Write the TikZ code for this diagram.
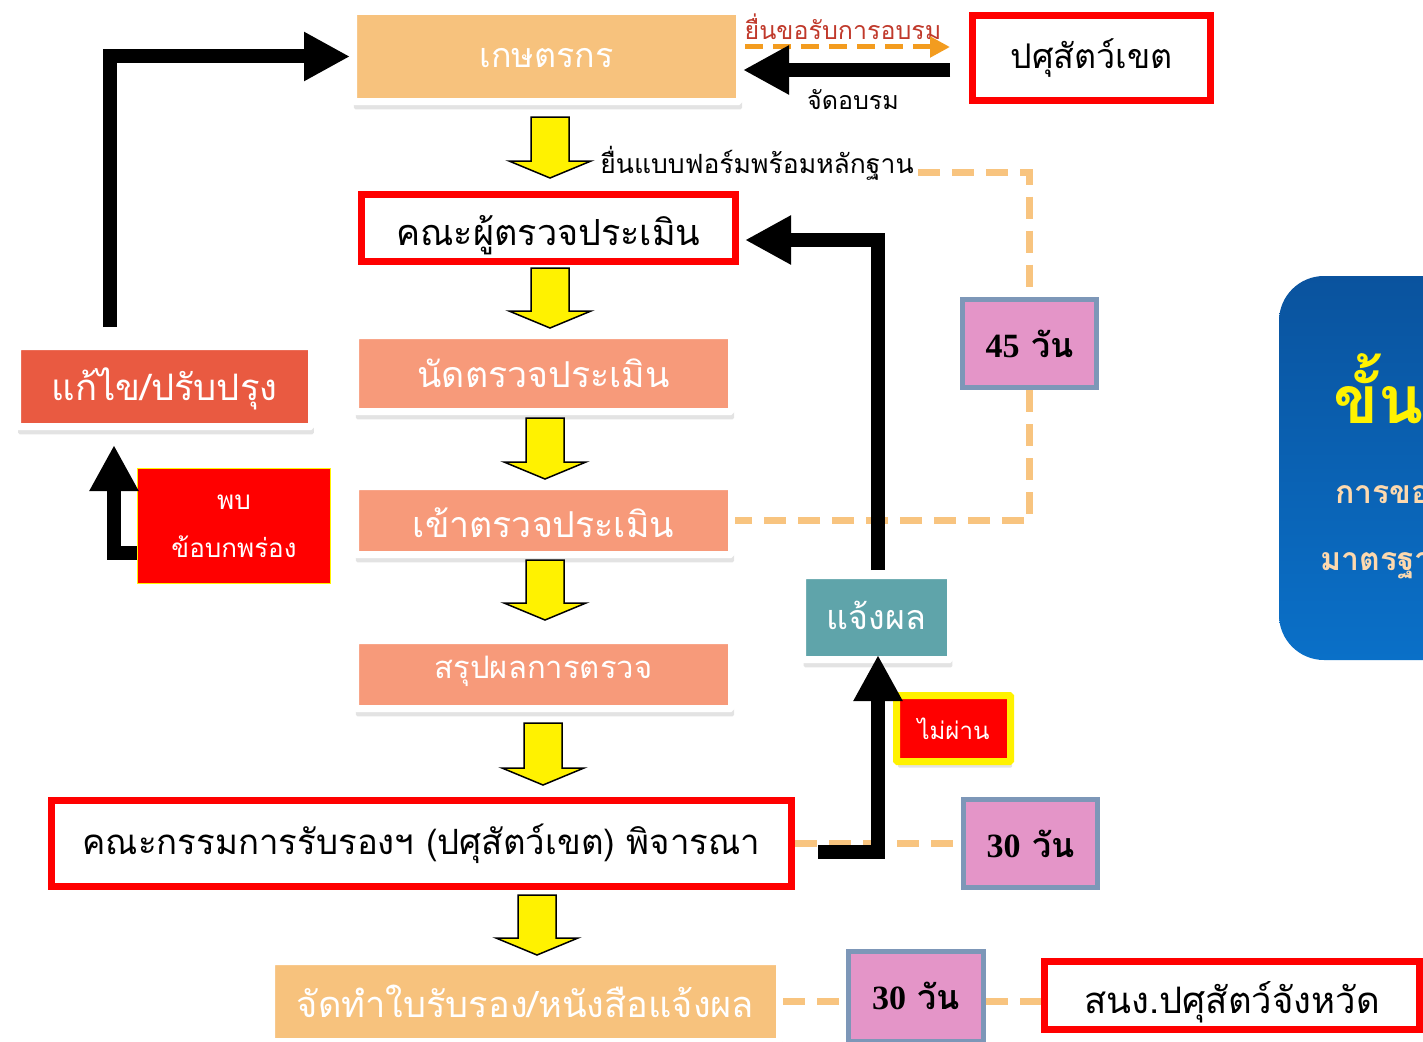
\documentclass[tikz,border=0pt]{standalone}
\usepackage{fontspec}
\setmainfont[Script=Thai]{Loma}
\newfontfamily\tnr{Liberation Serif}
\usetikzlibrary{arrows.meta,shadows,calc}
\definecolor{tan}{HTML}{F7C27D}
\definecolor{salmon}{HTML}{F79A7A}
\definecolor{fixred}{HTML}{E95A41}
\definecolor{teal2}{HTML}{5FA4AA}
\definecolor{pink2}{HTML}{E495C8}
\definecolor{pinkbd}{HTML}{7D97B8}
\definecolor{beige}{HTML}{F8C47F}
\definecolor{orng}{HTML}{F39C1F}
\definecolor{dred}{HTML}{C0392B}
\definecolor{bluetop}{HTML}{0A539E}
\definecolor{bluebot}{HTML}{0A70C8}
\definecolor{peach}{HTML}{FDD9AE}
\newcommand{\yarr}[3]{%
  \draw[yarrow] (#1-19,#2) -- (#1+19,#2) -- (#1+19,#3-17) -- (#1+41,#3-17) -- (#1,#3) -- (#1-41,#3-17) -- (#1-19,#3-17) -- cycle;}
\newcommand{\lowr}[2]{\raisebox{-#1pt}[\height][\depth]{#2}}
\begin{document}
\begin{tikzpicture}[x=1pt,y=-1pt,
  fbox/.style={draw=white, line width=7pt, rounded corners=1.5pt, inner sep=0pt, text=white,
     drop shadow={opacity=0.22, shadow xshift=1.5pt, shadow yshift=-7.5pt, shadow scale=1.006}},
  rbox/.style={draw=red, line width=7pt, fill=white, inner sep=0pt, text=black},
  pbox/.style={draw=pinkbd, line width=5pt, fill=pink2, inner sep=0pt, text=black,
     font=\fontsize{34}{38}\selectfont\bfseries},
  yarrow/.style={fill=yellow, draw=black, line width=1.5pt, line join=miter},
  blk/.style={line width=14pt, line join=miter, -{Triangle[length=46pt,width=46pt]}},
  bdash/.style={draw=beige, line width=7pt, dash pattern=on 22pt off 12pt},
  odash/.style={draw=orng, line width=5pt, dash pattern=on 18pt off 10pt, -{Triangle[length=20pt,width=20pt]}},
  lbl/.style={inner sep=0pt, font=\fontsize{25}{29}\selectfont},
  big/.style={font=\fontsize{34}{40}\selectfont}]
\clip (0,0) rectangle (1423,1041);
\useasboundingbox (0,0) rectangle (1423,1041);

% blue title panel
\shade[top color=bluetop, bottom color=bluebot, rounded corners=45pt] (1279,276) rectangle (1490,660);
\node[anchor=base west, inner sep=0pt, text=yellow, font=\fontsize{66}{70}\selectfont\bfseries] (t1) at (1333,423) {ขั้นตอน};
\node[anchor=base west, inner sep=0pt, text=peach, font=\fontsize{32}{36}\selectfont\bfseries] (t2) at (1335,503) {การขอรับรอง};
\node[anchor=base west, inner sep=0pt, text=peach, font=\fontsize{32}{36}\selectfont\bfseries] (t3) at (1320,570) {มาตรฐานฟาร์ม};

% main boxes
\node[fbox, fill=tan, big, minimum width=386, minimum height=90] (farmer) at (546.5,56.5) {\lowr{2}{เกษตรกร}};
\node[rbox, big, minimum width=238, minimum height=85] (dlv) at (1091.5,58) {ปศุสัตว์เขต};
\node[rbox, font=\fontsize{36}{40}\selectfont, minimum width=374, minimum height=67] (assess) at (548.5,228) {\lowr{7}{คณะผู้ตรวจประเมิน}};
\node[fbox, fill=salmon, font=\fontsize{35.7}{40}\selectfont, minimum width=376, minimum height=76] (appoint) at (543.5,373.5) {นัดตรวจประเมิน};
\node[fbox, fill=salmon, font=\fontsize{35.7}{40}\selectfont, minimum width=376, minimum height=68] (audit) at (543.5,520.5) {\lowr{2}{เข้าตรวจประเมิน}};
\node[fbox, fill=salmon, font=\fontsize{31}{34}\selectfont, minimum width=376, minimum height=68] (summary) at (543.5,674.5) {\lowr{-3}{สรุปผลการตรวจ}};
\node[rbox, font=\fontsize{34.8}{40}\selectfont, minimum width=740, minimum height=86] (committee) at (421.5,843.5) {คณะกรรมการรับรองฯ (ปศุสัตว์เขต) พิจารณา};
\node[fbox, fill=tan, font=\fontsize{36.2}{40}\selectfont, minimum width=508, minimum height=80] (cert) at (525.5,1001.5) {จัดทำใบรับรอง/หนังสือแจ้งผล};
\node[rbox, font=\fontsize{36.5}{40}\selectfont, minimum width=375, minimum height=68] (office) at (1232,995.5) {\lowr{7}{สนง.ปศุสัตว์จังหวัด}};
\node[fbox, fill=fixred, font=\fontsize{36.5}{40}\selectfont, minimum width=294, minimum height=80] (fix) at (164.5,386.5) {\lowr{2}{แก้ไข/ปรับปรุง}};
\node[fbox, fill=teal2, big, minimum width=148, minimum height=84] (notify) at (876.5,617.5) {\lowr{-2}{แจ้งผล}};
\node[fill=red, draw=yellow, line width=1.5pt, inner sep=0pt, text=white, align=center,
      font=\fontsize{26}{48}\selectfont, minimum width=193, minimum height=115] (defect) at (234,526) {พบ\\ข้อบกพร่อง};
\node[fill=red, draw=yellow, line width=7pt, inner sep=0pt, text=white, rounded corners=1pt,
      font=\fontsize{24}{28}\selectfont, minimum width=114, minimum height=66,
      drop shadow={opacity=0.22, shadow xshift=1.5pt, shadow yshift=-6pt}] (fail) at (953.5,728.5) {ไม่ผ่าน};
\node[pbox, minimum width=134, minimum height=88] (d45) at (1029.5,343.5) {{\tnr 45} วัน};
\node[pbox, minimum width=134, minimum height=88] (d30a) at (1030.5,843.5) {{\tnr 30} วัน};
\node[pbox, minimum width=135, minimum height=90] (d30b) at (916,996) {{\tnr 30} วัน};

% labels
\node[lbl, text=dred] (lblA) at (843,27) {ยื่นขอรับการอบรม};
\node[lbl] (lblB) at (853,100) {จัดอบรม};
\node[lbl, font=\fontsize{26.5}{30}\selectfont] (lblC) at (757,163) {ยื่นแบบฟอร์มพร้อมหลักฐาน};

% yellow block arrows
\yarr{550}{117}{178}
\yarr{550}{268}{328}
\yarr{545}{418}{479}
\yarr{545}{560}{620}
\yarr{543}{723}{785}
\yarr{537}{895}{955}

% coordinates
\coordinate (oa1) at (745,47);
\coordinate (oa2) at (950,47);
\coordinate (bk1) at (950,70);
\coordinate (f1) at (110,327);
\coordinate (g1) at (137,553);
\coordinate (f2) at (114,445);
\coordinate (a1) at (745,240);
\coordinate (c1) at (818,852);
\coordinate (n1) at (878,570);
\coordinate (n2) at (878,655);
\coordinate (lc) at (918,172);

% beige dashed links
\draw[bdash] (lc) -| (d45.north);
\draw[bdash] (d45.south) |- (audit.east);
\draw[bdash] (committee.east) -- (d30a.west);
\draw[bdash] (cert.east) -- (cert.east -| d30b.west);
\draw[bdash] (d30b.east |- cert.east) -- (office.west |- cert.east);

% connectors
\draw[odash] (oa1) -- (oa2);
\draw[blk] (bk1) -- (farmer.east |- bk1);
\draw[blk] (f1) |- (farmer.west);
\draw[blk] (g1) -| (f2);
\draw[blk] (n1) |- (a1);
\draw[blk] (c1) -| (n2);
\end{tikzpicture}
\end{document}
